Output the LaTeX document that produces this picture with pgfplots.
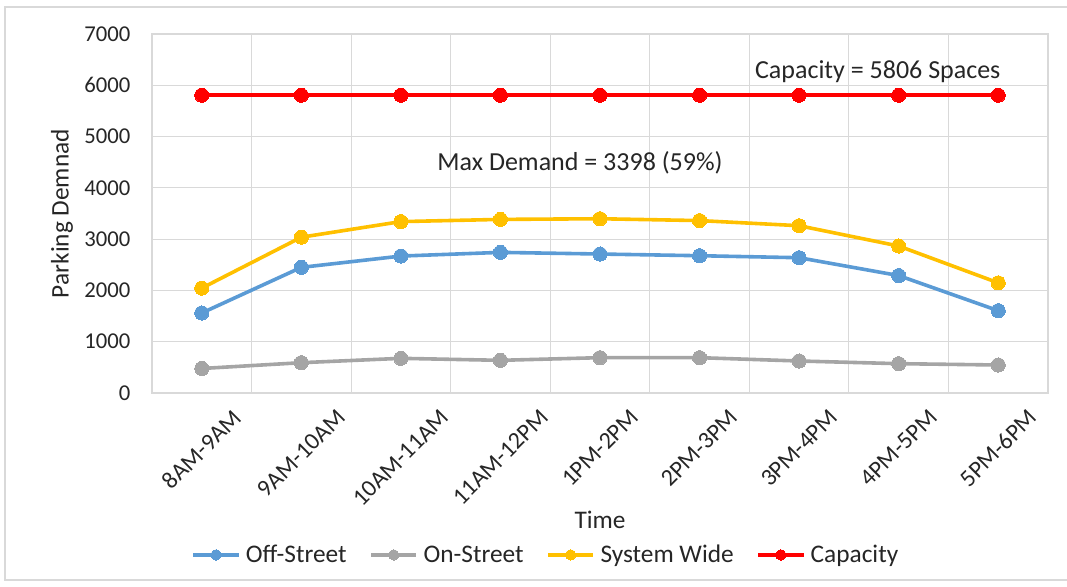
\documentclass[border=0pt]{standalone}
\usepackage{fontspec}
\setmainfont{Carlito}
\usepackage{pgfplots}
\pgfplotsset{compat=1.18}
\definecolor{cblue}{HTML}{5B9BD5}
\definecolor{cgray}{HTML}{A5A5A5}
\definecolor{cyellow}{HTML}{FFC000}
\definecolor{cred}{HTML}{FF0000}
\definecolor{gridgray}{HTML}{D9D9D9}
\begin{document}
\begin{tikzpicture}
\path[use as bounding box] (0pt,0pt) rectangle (800.25pt,439.5pt);
\draw[color=gridgray, line width=0.9pt] (800.25pt,434.25pt) -- (3.75pt,434.25pt) -- (3.75pt,4.5pt) -- (800.25pt,4.5pt);
\begin{axis}[
  at={(114pt,144.75pt)}, anchor=south west,
  scale only axis, width=672pt, height=269.25pt,
  xmin=-0.5, xmax=8.5, ymin=0, ymax=7000,
  xtick={0,1,2,3,4,5,6,7,8},
  xticklabels={\rotatebox{45}{8AM-9AM},\rotatebox{45}{9AM-10AM},\rotatebox{45}{10AM-11AM},\rotatebox{45}{11AM-12PM},\rotatebox{45}{1PM-2PM},\rotatebox{45}{2PM-3PM},\rotatebox{45}{3PM-4PM},\rotatebox{45}{4PM-5PM},\rotatebox{45}{5PM-6PM}},
  minor xtick={-0.5,0.5,1.5,2.5,3.5,4.5,5.5,6.5,7.5,8.5},
  ytick={0,1000,2000,3000,4000,5000,6000,7000},
  ymajorgrids, xminorgrids,
  major tick length=0pt, minor tick length=0pt,
  grid style={color=gridgray, line width=0.9pt},
  minor grid style={color=gridgray, line width=0.9pt},
  axis line style={color=gridgray, line width=0.9pt},
  scaled y ticks=false,
  /pgf/number format/assume math mode=true,
  yticklabel style={/pgf/number format/1000 sep={}, font=\fontsize{17}{20}\selectfont, inner sep=0pt, xshift=-16pt, text=black!85},
  xticklabel style={font=\fontsize{18}{20}\selectfont, anchor=north, inner sep=0pt, yshift=-11pt, text=black!85},
  xlabel={Time},
  ylabel={Parking Demnad},
  xlabel style={at={(axis description cs:0.5,-0.354)}, anchor=center, font=\fontsize{19}{22}\selectfont, text=black!85},
  ylabel style={at={(axis description cs:-0.1004,0.5)}, anchor=center, font=\fontsize{19}{22}\selectfont, text=black!85},
  legend columns=4,
  legend style={draw=none, at={(axis description cs:0.44,-0.451)}, anchor=center,
    font=\fontsize{19}{22}\selectfont, text=black!85,
    /tikz/every even column/.append style={column sep=15pt},
    /tikz/every odd column/.append style={column sep=2pt}},
  legend image code/.code={\draw[#1, mark repeat=2, mark phase=2, mark size=3.9pt] plot coordinates {(0pt,0pt) (17pt,0pt) (34pt,0pt)};},
  every axis plot/.append style={line width=2.7pt, mark=*, mark size=5.3pt},
]
\addplot[color=cblue, mark options={fill=cblue, draw=cblue, line width=0pt}] coordinates {
(0,1560) (1,2450) (2,2670) (3,2742) (4,2710) (5,2677) (6,2638) (7,2290) (8,1605)};
\addlegendentry{Off-Street}
\addplot[color=cgray, mark options={fill=cgray, draw=cgray, line width=0pt}] coordinates {
(0,478) (1,591) (2,676) (3,637) (4,689) (5,689) (6,624) (7,572) (8,546)};
\addlegendentry{On-Street}
\addplot[color=cyellow, mark options={fill=cyellow, draw=cyellow, line width=0pt}] coordinates {
(0,2045) (1,3038) (2,3342) (3,3385) (4,3398) (5,3362) (6,3262) (7,2866) (8,2148)};
\addlegendentry{System Wide}
\addplot[color=cred, mark options={fill=cred, draw=cred, line width=0pt}] coordinates {
(0,5806) (1,5806) (2,5806) (3,5806) (4,5806) (5,5806) (6,5806) (7,5806) (8,5806)};
\addlegendentry{Capacity}
\node[font=\fontsize{19.5}{22}\selectfont, text=black!85] at (axis description cs:0.810,0.894) {Capacity = 5806 Spaces};
\node[font=\fontsize{19.5}{22}\selectfont, text=black!85] at (axis description cs:0.4777,0.6407) {Max Demand = 3398 (59\%)};
\end{axis}
\end{tikzpicture}
\end{document}
